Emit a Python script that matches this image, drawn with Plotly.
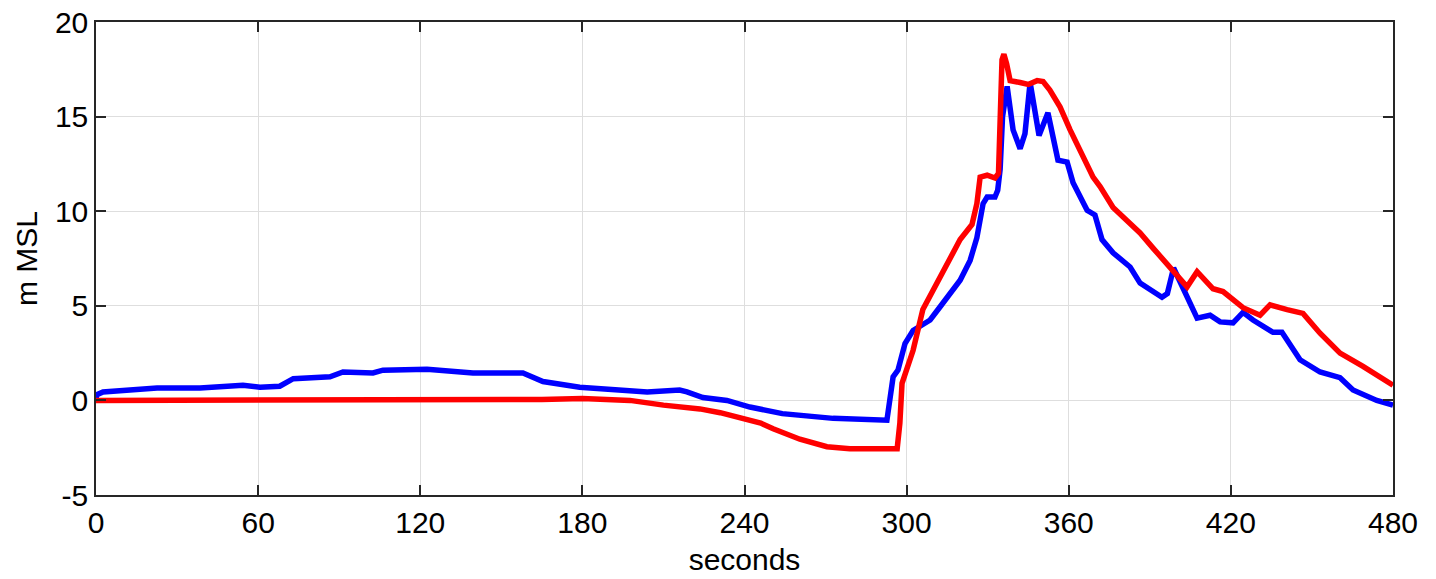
import plotly.graph_objects as go

# ---- data (seconds, m MSL) ----
blue_t = [0, 0.3, 2.6, 10, 16.3, 22.6, 38.5, 54.4, 60.7, 68, 73, 86.6, 91.4, 96.6, 102.5, 106.2,
          122.5, 139.5, 158, 165.4, 179, 204, 216, 218.7, 224.6, 233.5, 242, 254, 272.8, 292.7,
          293.8, 295, 296.8, 299.4, 302.4, 308.7, 312.4, 316, 319.8, 323.5, 326, 328.3, 329.8,
          332.7, 333.7, 334.6, 335.5, 337.2, 339.4, 342, 343.8, 345.7, 347.5, 349, 352.3, 354.2,
          356, 359.4, 361.6, 366.8, 369.7, 372.3, 376.4, 382.7, 386.4, 394.5, 396.5, 398.8, 401,
          407.5, 412.3, 416, 420.8, 424.5, 428.2, 435.6, 438.9, 445.6, 453, 460.4, 465.2, 474, 480]
blue_y = [0.1, 0.3, 0.45, 0.5, 0.55, 0.65, 0.65, 0.8, 0.7, 0.75, 1.15, 1.25, 1.5, 1.45, 1.45, 1.6,
          1.65, 1.45, 1.45, 1.0, 0.7, 0.45, 0.55, 0.45, 0.15, 0.0, -0.35, -0.7, -0.95, -1.05,
          0.2, 1.25, 1.6, 3.0, 3.7, 4.25, 4.95, 5.65, 6.35, 7.4, 8.6, 10.4, 10.75,
          10.75, 11.1, 12.2, 15.0, 16.6, 14.3, 13.3, 14.1, 16.8, 15.2, 14.0, 15.2, 13.9,
          12.7, 12.6, 11.5, 10.05, 9.8, 8.5, 7.8, 7.05, 6.2, 5.45, 5.65, 7.0, 6.35,
          4.35, 4.5, 4.15, 4.1, 4.65, 4.25, 3.6, 3.6, 2.15, 1.5, 1.2, 0.55, 0.0, -0.25]

red_t = [0, 146, 165, 180, 194, 197.6, 210, 216, 223.5, 231, 239.5, 246, 250.6, 260.5, 270.5, 279,
         296.5, 297.5, 298.3, 300, 302.4, 306, 309.8, 315, 319.8, 324.2, 326, 327.2, 329.8, 332.7,
         334.0, 335.3, 336.0, 337.0, 338.3, 342, 345, 348.3, 350.5, 353, 356.8, 360.5, 365.3, 369,
         371.6, 376.4, 381.6, 386.4, 391.2, 398.2, 403.8, 407.5, 413.4, 417.1, 424.5, 430.8, 434.5,
         440.8, 446.7, 453, 460.4, 468.9, 480]
red_y = [0, 0, 0.05, 0.1, 0.05, 0.0, -0.25, -0.35, -0.45, -0.65, -0.95, -1.2, -1.5, -2.05, -2.45, -2.55,
         -2.55, -1.2, 0.9, 1.6, 2.65, 4.8, 5.8, 7.25, 8.5, 9.3, 10.4, 11.8, 11.9, 11.75,
         12.0, 18.0, 18.3, 17.8, 16.9, 16.8, 16.7, 16.9, 16.85, 16.4, 15.5, 14.3, 12.9, 11.8,
         11.3, 10.2, 9.5, 8.85, 8.05, 6.9, 6.0, 6.8, 5.9, 5.75, 4.9, 4.5, 5.05,
         4.8, 4.6, 3.55, 2.5, 1.8, 0.8]

x_ticks = [0, 60, 120, 180, 240, 300, 360, 420, 480]
y_ticks = [-5, 0, 5, 10, 15, 20]

assert len(blue_t) == len(blue_y)
assert len(red_t) == len(red_y)

FONT = "Liberation Sans, Arial, sans-serif"

fig = go.Figure()
fig.add_trace(go.Scatter(x=blue_t, y=blue_y, mode="lines",
                         line=dict(color="#0000FF", width=5.5), showlegend=False))
fig.add_trace(go.Scatter(x=red_t, y=red_y, mode="lines",
                         line=dict(color="#FF0000", width=5.5), showlegend=False))

axis_common = dict(
    showline=True, linecolor="#262626", linewidth=1.5, mirror="ticks",
    ticks="inside", ticklen=10, tickwidth=1.5, tickcolor="#262626",
    showgrid=True, gridcolor="#dedede", gridwidth=1, zeroline=False,
    tickfont=dict(family=FONT, size=30, color="#000000"),
    ticklabeloverflow="allow",
)

fig.update_xaxes(range=[0, 480], tickvals=x_ticks, ticktext=[str(v) for v in x_ticks],
                 title=dict(text="seconds", standoff=11,
                            font=dict(family=FONT, size=30, color="#000000")),
                 **axis_common)
fig.update_yaxes(range=[-5, 20], tickvals=y_ticks, ticktext=[str(v) for v in y_ticks],
                 title=dict(text="m MSL", standoff=8,
                            font=dict(family=FONT, size=30, color="#000000")),
                 **axis_common)

fig.update_layout(
    width=1436, height=579,
    margin=dict(l=96, r=43, t=22, b=84, autoexpand=False),
    paper_bgcolor="white", plot_bgcolor="white",
    font=dict(family=FONT, size=30, color="#000000"),
)

fig.write_html("out.html", config={"displayModeBar": False},
               post_script="document.body.style.margin='0';")
